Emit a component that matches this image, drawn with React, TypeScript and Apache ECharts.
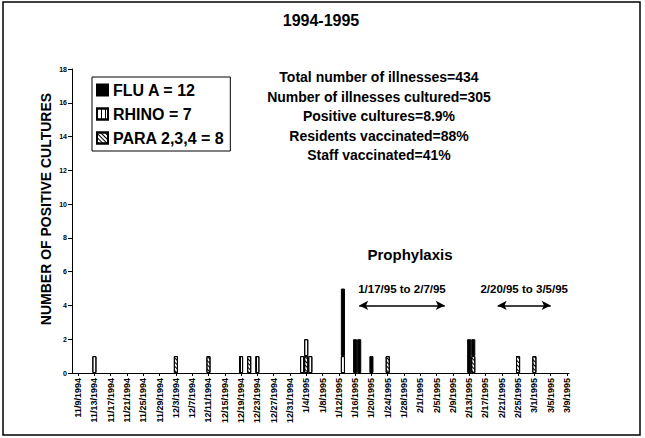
import React, { useEffect, useRef } from "react";
import * as echarts from "echarts";

// Daily category axis: 11/8/1994 .. 3/9/1995
const axisStart = [1994, 10, 8]; // year, monthIndex, day
const axisDays = 122;

const fluDates = ["1/13/1995", "1/16/1995", "1/17/1995", "1/20/1995", "2/13/1995", "2/14/1995"];
const fluCounts = [4, 2, 2, 1, 2, 1];

const rhinoDates = ["11/13/1994", "12/19/1994", "12/23/1994", "1/3/1995", "1/4/1995", "1/5/1995", "1/13/1995"];
const rhinoCounts = [1, 1, 1, 1, 1, 1, 1];

const paraDates = ["12/3/1994", "12/11/1994", "12/21/1994", "1/4/1995", "1/24/1995", "2/14/1995", "2/25/1995", "3/1/1995"];
const paraCounts = [1, 1, 1, 1, 1, 1, 1, 1];

const seriesNames = ["FLU A = 12", "RHINO = 7", "PARA 2,3,4 = 8"];

const prophylaxisStart = ["1/17/1995", "2/20/1995"];
const prophylaxisEnd = ["2/7/1995", "3/5/1995"];
const prophylaxisLabels = ["1/17/95 to 2/7/95", "2/20/95 to 3/5/95"];
const prophylaxisLevel = 4;

const statsLines = [
  "Total number of illnesses=434",
  "Number of illnesses cultured=305",
  "Positive cultures=8.9%",
  "Residents vaccinated=88%",
  "Staff vaccinated=41%",
];

function buildCategories(): string[] {
  const out: string[] = [];
  const d = new Date(axisStart[0], axisStart[1], axisStart[2]);
  for (let i = 0; i < axisDays; i++) {
    out.push(`${d.getMonth() + 1}/${d.getDate()}/${d.getFullYear()}`);
    d.setDate(d.getDate() + 1);
  }
  return out;
}

function toSeries(categories: string[], dates: string[], counts: number[]) {
  return categories.map((c) => {
    const i = dates.indexOf(c);
    return i >= 0 ? counts[i] : "-";
  });
}

const FONT = "Liberation Sans, Arial, sans-serif";

export default function App() {
  const ref = useRef<HTMLDivElement>(null);
  useEffect(() => {
    if (!ref.current) return;
    const chart = echarts.init(ref.current, undefined, { renderer: "svg" });
    const categories = buildCategories();
    const barBase = { type: "bar", stack: "total", barCategoryGap: "0%", barWidth: "100%" };

    const option: any = {
      animation: false,
      backgroundColor: "#fff",
      textStyle: { fontFamily: FONT },
      grid: { left: 72, top: 69, width: 497, height: 304, containLabel: false },
      legend: {
        data: seriesNames,
        orient: "vertical",
        left: 92,
        top: 77,
        itemWidth: 11,
        itemHeight: 11,
        itemGap: 8,
        padding: [5, 6, 5, 4],
        borderColor: "#000",
        borderWidth: 1,
        icon: "rect",
        textStyle: { fontSize: 16, fontWeight: "bold", color: "#000", fontFamily: FONT },
      },
      xAxis: {
        type: "category",
        data: categories,
        boundaryGap: true,
        axisLine: { lineStyle: { color: "#000", width: 1 } },
        axisTick: {
          show: true,
          alignWithLabel: true,
          interval: (i: number) => i % 4 === 1,
          length: 3,
          lineStyle: { color: "#000" },
        },
        axisLabel: {
          interval: (i: number) => i % 4 === 1,
          rotate: 90,
          fontSize: 9,
          fontWeight: "bold",
          color: "#000",
          margin: 5,
          fontFamily: FONT,
        },
      },
      yAxis: {
        type: "value",
        min: 0,
        max: 18,
        interval: 2,
        splitLine: { show: false },
        axisLine: { show: true, lineStyle: { color: "#000", width: 1 } },
        axisTick: { show: true, length: 4, lineStyle: { color: "#000" } },
        axisLabel: { fontSize: 7, fontWeight: "bold", color: "#000", margin: 5, fontFamily: FONT },
      },
      series: [
        {
          ...barBase,
          name: seriesNames[2],
          data: toSeries(categories, paraDates, paraCounts),
          itemStyle: {
            color: "#fff",
            borderColor: "#000",
            borderWidth: 1,
            decal: {
              symbol: "rect",
              symbolSize: 1,
              color: "#000",
              dashArrayX: [1, 0],
              dashArrayY: [1, 2],
              rotation: Math.PI / 4,
            },
          },
        },
        {
          ...barBase,
          name: seriesNames[1],
          data: toSeries(categories, rhinoDates, rhinoCounts),
          itemStyle: {
            color: "#fff",
            borderColor: "#000",
            borderWidth: 1,
            decal: {
              symbol: "rect",
              symbolSize: 1,
              color: "#000",
              dashArrayX: [1, 3],
              dashArrayY: [6, 0],
              rotation: 0,
            },
          },
        },
        {
          ...barBase,
          name: seriesNames[0],
          data: toSeries(categories, fluDates, fluCounts),
          itemStyle: { color: "#000", borderColor: "#000", borderWidth: 1 },
        },
        {
          type: "line",
          name: "prophylaxis",
          data: [],
          silent: true,
          markLine: {
            silent: true,
            symbol: ["arrow", "arrow"],
            symbolSize: [7, 9],
            lineStyle: { color: "#000", width: 1.5, type: "solid" },
            label: {
              show: true,
              position: "middle",
              formatter: "{b}",
              distance: 10,
              fontSize: 11.5,
              fontWeight: "bold",
              color: "#000",
              fontFamily: FONT,
            },
            data: prophylaxisStart.map((s, i) => [
              { name: prophylaxisLabels[i], coord: [s, prophylaxisLevel] },
              { coord: [prophylaxisEnd[i], prophylaxisLevel] },
            ]),
          },
        },
      ],
      graphic: [
        {
          type: "rect",
          shape: { x: 3, y: 2, width: 637, height: 433 },
          style: { fill: "none", stroke: "#000", lineWidth: 1.5 },
          silent: true,
          z: 100,
        },
        {
          type: "text",
          x: 321,
          y: 20,
          style: {
            text: "1994-1995",
            fontSize: 16,
            fontWeight: "bold",
            fill: "#000",
            align: "center",
            verticalAlign: "middle",
            fontFamily: FONT,
          },
        },
        {
          type: "text",
          x: 46,
          y: 209,
          rotation: Math.PI / 2,
          style: {
            text: "NUMBER OF POSITIVE CULTURES",
            fontSize: 14,
            fontWeight: "bold",
            fill: "#000",
            align: "center",
            verticalAlign: "middle",
            fontFamily: FONT,
          },
        },
        ...statsLines.map((t, i) => ({
          type: "text",
          x: 379,
          y: 77 + i * 19.6,
          style: {
            text: t,
            fontSize: 14,
            fontWeight: "bold",
            fill: "#000",
            align: "center",
            verticalAlign: "middle",
            fontFamily: FONT,
          },
        })),
        {
          type: "text",
          x: 410,
          y: 254,
          style: {
            text: "Prophylaxis",
            fontSize: 15,
            fontWeight: "bold",
            fill: "#000",
            align: "center",
            verticalAlign: "middle",
            fontFamily: FONT,
          },
        },
      ],
    };
    chart.setOption(option);
    return () => chart.dispose();
  }, []);
  return (
    <div
      ref={ref}
      style={{ position: "absolute", left: 0, top: 0, width: 645, height: 438 }}
    />
  );
}
